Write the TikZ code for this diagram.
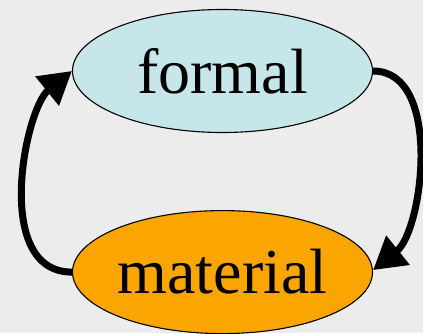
\documentclass[tikz,border=0pt]{standalone}
\usepackage{fontspec}
\setmainfont{Liberation Serif}
\usetikzlibrary{positioning, shapes.geometric, arrows.meta}
\definecolor{panelgray}{RGB}{236,236,236}
\definecolor{formalblue}{RGB}{198,230,234}
\definecolor{materialorange}{RGB}{250,165,0}
\begin{document}
\begin{tikzpicture}[
    x=1pt, y=1pt,
    bubble/.style={draw, ellipse, line width=1.1pt, inner sep=0pt, minimum width=300pt, minimum height=123pt, font=\fontsize{64}{70}\selectfont},
    cycle edge/.style={draw, line width=7pt, -{Triangle[length=32pt, width=36pt]}},
    node distance=77pt
  ]

  \fill[panelgray] (0,0) rectangle (423,333);
  \useasboundingbox (0,0) rectangle (423,333);

  \node[bubble, fill=formalblue] (formal) at (222.5,262) {formal};
  \node[bubble, fill=materialorange, below=of formal] (material) {material};

  \path[cycle edge] (formal.east) .. controls +(70,0) and +(50,40) .. ([yshift=2pt]material.east);
  \path[cycle edge] (material.west) .. controls +(-80,0) and +(-47,-38) .. (formal.west);

\end{tikzpicture}
\end{document}
